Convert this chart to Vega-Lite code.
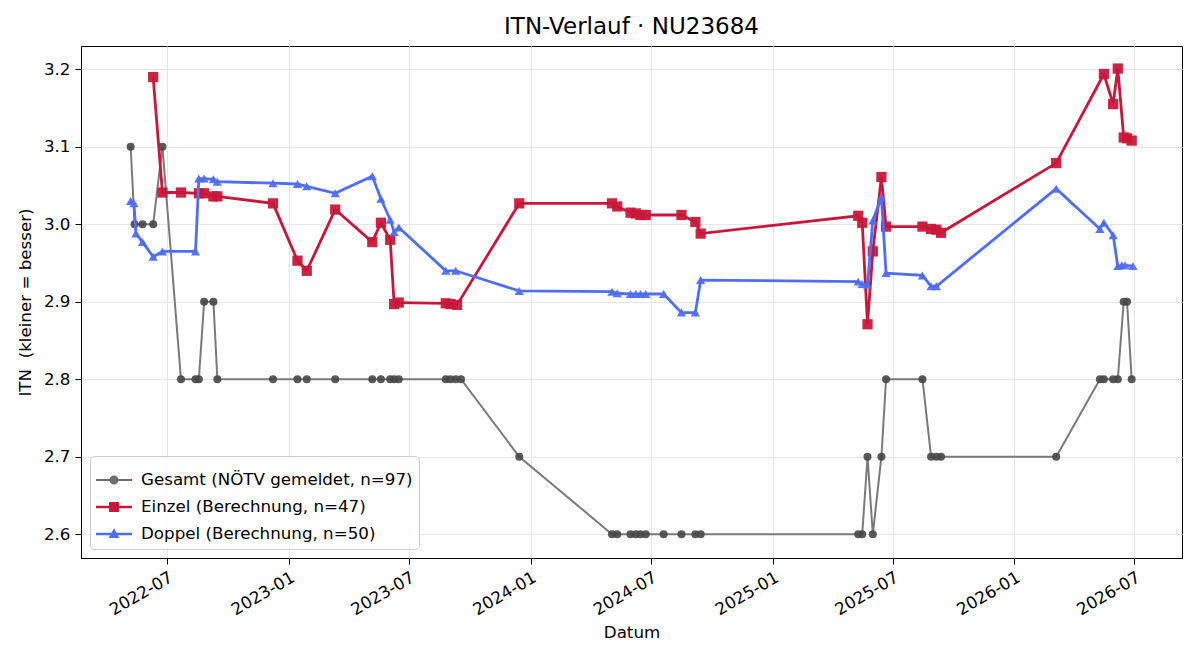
{
  "$schema": "https://vega.github.io/schema/vega-lite/v6.json",
  "width": 1101,
  "height": 512,
  "autosize": {"type": "none"},
  "padding": {"left": 81, "top": 46, "right": 18, "bottom": 102},
  "background": "white",
  "title": {"text": "ITN-Verlauf · NU23684", "fontSize": 23, "fontWeight": "normal", "font": "DejaVu Sans", "anchor": "middle", "offset": 7, "color": "black"},
  "datasets": {
    "G": [
      {"d": "2022-05-07", "v": 3.1}, {"d": "2022-05-13", "v": 3.0}, {"d": "2022-05-25", "v": 3.0}, {"d": "2022-06-10", "v": 3.0},
      {"d": "2022-06-24", "v": 3.1}, {"d": "2022-07-22", "v": 2.8}, {"d": "2022-08-13", "v": 2.8}, {"d": "2022-08-18", "v": 2.8},
      {"d": "2022-08-26", "v": 2.9}, {"d": "2022-09-09", "v": 2.9}, {"d": "2022-09-15", "v": 2.8}, {"d": "2022-12-08", "v": 2.8},
      {"d": "2023-01-14", "v": 2.8}, {"d": "2023-01-28", "v": 2.8}, {"d": "2023-03-12", "v": 2.8}, {"d": "2023-05-07", "v": 2.8},
      {"d": "2023-05-20", "v": 2.8}, {"d": "2023-06-03", "v": 2.8}, {"d": "2023-06-09", "v": 2.8}, {"d": "2023-06-16", "v": 2.8},
      {"d": "2023-08-26", "v": 2.8}, {"d": "2023-09-02", "v": 2.8}, {"d": "2023-09-10", "v": 2.8}, {"d": "2023-09-18", "v": 2.8},
      {"d": "2023-12-15", "v": 2.7}, {"d": "2024-05-03", "v": 2.6}, {"d": "2024-05-11", "v": 2.6}, {"d": "2024-05-31", "v": 2.6},
      {"d": "2024-06-08", "v": 2.6}, {"d": "2024-06-15", "v": 2.6}, {"d": "2024-06-23", "v": 2.6}, {"d": "2024-07-20", "v": 2.6},
      {"d": "2024-08-16", "v": 2.6}, {"d": "2024-09-06", "v": 2.6}, {"d": "2024-09-14", "v": 2.6}, {"d": "2025-05-10", "v": 2.6},
      {"d": "2025-05-16", "v": 2.6}, {"d": "2025-05-24", "v": 2.7}, {"d": "2025-06-01", "v": 2.6}, {"d": "2025-06-14", "v": 2.7},
      {"d": "2025-06-21", "v": 2.8}, {"d": "2025-08-15", "v": 2.8}, {"d": "2025-08-28", "v": 2.7}, {"d": "2025-09-05", "v": 2.7},
      {"d": "2025-09-12", "v": 2.7}, {"d": "2026-03-05", "v": 2.7}, {"d": "2026-05-10", "v": 2.8}, {"d": "2026-05-16", "v": 2.8},
      {"d": "2026-05-30", "v": 2.8}, {"d": "2026-06-06", "v": 2.8}, {"d": "2026-06-15", "v": 2.9}, {"d": "2026-06-20", "v": 2.9},
      {"d": "2026-06-27", "v": 2.8}
    ],
    "E": [
      {"d": "2022-06-10", "v": 3.19}, {"d": "2022-06-24", "v": 3.041}, {"d": "2022-07-22", "v": 3.041}, {"d": "2022-08-18", "v": 3.04},
      {"d": "2022-08-26", "v": 3.04}, {"d": "2022-09-09", "v": 3.036}, {"d": "2022-09-15", "v": 3.036}, {"d": "2022-12-08", "v": 3.027},
      {"d": "2023-01-14", "v": 2.953}, {"d": "2023-01-28", "v": 2.94}, {"d": "2023-03-12", "v": 3.019}, {"d": "2023-05-07", "v": 2.977},
      {"d": "2023-05-20", "v": 3.002}, {"d": "2023-06-03", "v": 2.98}, {"d": "2023-06-09", "v": 2.897}, {"d": "2023-06-16", "v": 2.899},
      {"d": "2023-08-26", "v": 2.898}, {"d": "2023-09-02", "v": 2.897}, {"d": "2023-09-12", "v": 2.896}, {"d": "2023-12-15", "v": 3.027},
      {"d": "2024-05-03", "v": 3.027}, {"d": "2024-05-11", "v": 3.023}, {"d": "2024-05-31", "v": 3.015}, {"d": "2024-06-08", "v": 3.014},
      {"d": "2024-06-15", "v": 3.012}, {"d": "2024-06-23", "v": 3.012}, {"d": "2024-08-16", "v": 3.012}, {"d": "2024-09-06", "v": 3.003},
      {"d": "2024-09-14", "v": 2.988}, {"d": "2025-05-10", "v": 3.011}, {"d": "2025-05-16", "v": 3.002}, {"d": "2025-05-24", "v": 2.871},
      {"d": "2025-06-01", "v": 2.965}, {"d": "2025-06-14", "v": 3.061}, {"d": "2025-06-21", "v": 2.997}, {"d": "2025-08-15", "v": 2.997},
      {"d": "2025-08-28", "v": 2.994}, {"d": "2025-09-05", "v": 2.993}, {"d": "2025-09-12", "v": 2.989}, {"d": "2026-03-05", "v": 3.079},
      {"d": "2026-05-16", "v": 3.194}, {"d": "2026-05-30", "v": 3.155}, {"d": "2026-06-06", "v": 3.201}, {"d": "2026-06-15", "v": 3.112},
      {"d": "2026-06-20", "v": 3.111}, {"d": "2026-06-27", "v": 3.108}
    ],
    "D": [
      {"d": "2022-05-07", "v": 3.03}, {"d": "2022-05-12", "v": 3.027}, {"d": "2022-05-15", "v": 2.988}, {"d": "2022-05-25", "v": 2.977},
      {"d": "2022-06-10", "v": 2.958}, {"d": "2022-06-24", "v": 2.965}, {"d": "2022-08-13", "v": 2.965}, {"d": "2022-08-18", "v": 3.059},
      {"d": "2022-08-26", "v": 3.059}, {"d": "2022-09-09", "v": 3.058}, {"d": "2022-09-15", "v": 3.055}, {"d": "2022-12-08", "v": 3.053},
      {"d": "2023-01-14", "v": 3.052}, {"d": "2023-01-28", "v": 3.049}, {"d": "2023-03-12", "v": 3.04}, {"d": "2023-05-07", "v": 3.062},
      {"d": "2023-05-20", "v": 3.033}, {"d": "2023-06-03", "v": 3.006}, {"d": "2023-06-09", "v": 2.99}, {"d": "2023-06-16", "v": 2.996},
      {"d": "2023-08-26", "v": 2.94}, {"d": "2023-09-10", "v": 2.94}, {"d": "2023-12-15", "v": 2.914}, {"d": "2024-05-03", "v": 2.913},
      {"d": "2024-05-11", "v": 2.911}, {"d": "2024-05-31", "v": 2.91}, {"d": "2024-06-08", "v": 2.91}, {"d": "2024-06-15", "v": 2.91},
      {"d": "2024-06-23", "v": 2.91}, {"d": "2024-07-20", "v": 2.91}, {"d": "2024-08-16", "v": 2.886}, {"d": "2024-09-06", "v": 2.886},
      {"d": "2024-09-14", "v": 2.928}, {"d": "2025-05-10", "v": 2.926}, {"d": "2025-05-16", "v": 2.923}, {"d": "2025-05-24", "v": 2.922},
      {"d": "2025-06-01", "v": 3.005}, {"d": "2025-06-14", "v": 3.035}, {"d": "2025-06-21", "v": 2.937}, {"d": "2025-08-15", "v": 2.934},
      {"d": "2025-08-28", "v": 2.92}, {"d": "2025-09-05", "v": 2.92}, {"d": "2026-03-05", "v": 3.046}, {"d": "2026-05-10", "v": 2.994},
      {"d": "2026-05-16", "v": 3.002}, {"d": "2026-05-30", "v": 2.986}, {"d": "2026-06-06", "v": 2.946}, {"d": "2026-06-12", "v": 2.947},
      {"d": "2026-06-17", "v": 2.947}, {"d": "2026-06-29", "v": 2.946}
    ],
    "L": [
      {"s": "Gesamt (NÖTV gemeldet, n=97)"},
      {"s": "Einzel (Berechnung, n=47)"},
      {"s": "Doppel (Berechnung, n=50)"}
    ]
  },
  "encoding": {
    "x": {
      "field": "d", "type": "temporal", "title": "Datum",
      "scale": {"domain": [{"year": 2022, "month": 2, "date": 21}, {"year": 2026, "month": 9, "date": 11}], "nice": false},
      "axis": {
        "values": [
          {"year": 2022, "month": 7, "date": 1}, {"year": 2023, "month": 1, "date": 1}, {"year": 2023, "month": 7, "date": 1},
          {"year": 2024, "month": 1, "date": 1}, {"year": 2024, "month": 7, "date": 1}, {"year": 2025, "month": 1, "date": 1},
          {"year": 2025, "month": 7, "date": 1}, {"year": 2026, "month": 1, "date": 1}, {"year": 2026, "month": 7, "date": 1}
        ],
        "format": "%Y-%m", "labelAngle": -30, "labelAlign": "right", "labelBaseline": "top", "titlePadding": 6
      }
    },
    "y": {
      "field": "v", "type": "quantitative", "title": "ITN\u00a0 (kleiner = besser)",
      "scale": {"domain": [2.5693, 3.2301], "nice": false, "zero": false},
      "axis": {"values": [2.6, 2.7, 2.8, 2.9, 3.0, 3.1, 3.2], "format": ".1f", "titlePadding": 9}
    }
  },
  "layer": [
    {
      "data": {"name": "G"},
      "mark": {"type": "line", "color": "#7a7a7a", "strokeWidth": 2,
               "point": {"filled": true, "shape": "circle", "size": 65, "color": "#474747", "opacity": 0.9}}
    },
    {
      "data": {"name": "E"},
      "mark": {"type": "line", "color": "#C8183A", "strokeWidth": 2.8,
               "point": {"filled": true, "shape": "square", "size": 105, "color": "#C8183A", "opacity": 0.95}}
    },
    {
      "data": {"name": "D"},
      "mark": {"type": "line", "color": "#4F6EF5", "strokeWidth": 2.8,
               "point": {"filled": true, "shape": "triangle-up", "size": 85, "color": "#4F6EF5", "opacity": 0.95}}
    },
    {
      "data": {"name": "L"},
      "transform": [{"filter": "false"}],
      "mark": {"type": "point", "filled": true},
      "encoding": {
        "x": {"value": 0},
        "y": {"value": 0},
        "color": {
          "field": "s", "type": "nominal",
          "scale": {"domain": ["Gesamt (NÖTV gemeldet, n=97)", "Einzel (Berechnung, n=47)", "Doppel (Berechnung, n=50)"],
                    "range": ["#6f6f6f", "#C8183A", "#4F6EF5"]},
          "legend": {"title": null}
        },
        "shape": {
          "field": "s", "type": "nominal",
          "scale": {"domain": ["Gesamt (NÖTV gemeldet, n=97)", "Einzel (Berechnung, n=47)", "Doppel (Berechnung, n=50)"],
                    "range": [
                      "M-1,-0.055H1V0.055H-1Z M-0.25,0A0.25,0.25 0 1,1 0.25,0A0.25,0.25 0 1,1 -0.25,0Z",
                      "M-1,-0.075H1V0.075H-1Z M-0.28,-0.28H0.28V0.28H-0.28Z",
                      "M-1,-0.075H1V0.075H-1Z M0,-0.32L0.3,0.22L-0.3,0.22Z"
                    ]},
          "legend": {"title": null}
        }
      }
    }
  ],
  "config": {
    "font": "DejaVu Sans",
    "view": {"stroke": "black", "strokeWidth": 1},
    "axis": {
      "labelFont": "DejaVu Sans", "labelFontSize": 16.7, "labelColor": "black",
      "titleFont": "DejaVu Sans", "titleFontSize": 16.7, "titleFontWeight": "normal", "titleColor": "black",
      "tickColor": "black", "domainColor": "black", "gridColor": "#e6e6e6", "tickSize": 6, "labelPadding": 5
    },
    "legend": {
      "orient": "bottom-left", "offset": 9, "padding": 6,
      "fillColor": "rgba(255,255,255,0.85)", "strokeColor": "#cccccc", "cornerRadius": 4,
      "labelFont": "DejaVu Sans", "labelFontSize": 16.7, "labelColor": "black", "labelLimit": 0,
      "symbolSize": 1296, "symbolStrokeWidth": 0, "symbolOpacity": 1, "rowPadding": -8.5, "labelOffset": 9
    }
  }
}
